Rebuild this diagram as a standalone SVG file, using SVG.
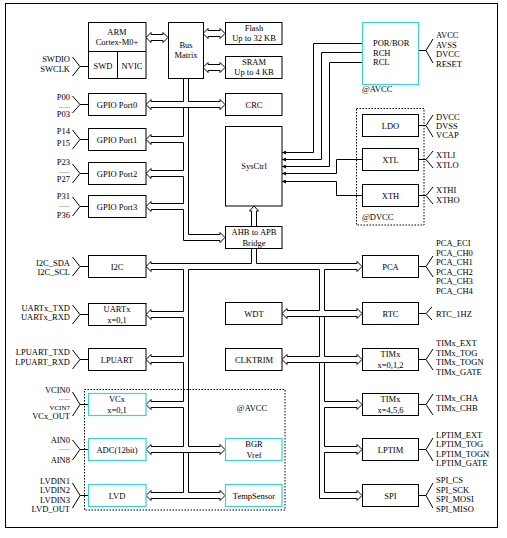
<svg xmlns="http://www.w3.org/2000/svg" width="507" height="538" viewBox="0 0 507 538">
<style>
.b{fill:#fff;stroke:#000;stroke-width:1}
.c{fill:#fff;stroke:#3fcfd6;stroke-width:1.2}
.d{fill:none;stroke:#000;stroke-width:1;stroke-dasharray:1.5 1.5}
.ln{fill:none;stroke:#000;stroke-width:1}
text{font-family:"Liberation Serif","Times New Roman",serif;font-size:8.5px;fill:#000}
.m{text-anchor:middle}
.e{text-anchor:end}
.dots{font-size:6.5px;fill:#555}
.sm{font-size:7px}
</style>
<defs>
<marker id="sa" markerUnits="userSpaceOnUse" markerWidth="4" markerHeight="4" refX="4" refY="2" orient="auto-start-reverse">
<path d="M0,0 L4,2 L0,4 Z" fill="#000"/>
</marker>
</defs>
<rect x="0" y="0" width="507" height="538" fill="#fff"/>
<rect id="frame" x="5.5" y="3.5" width="492" height="524" class="ln"/>
<rect id="avcc-region" x="84.5" y="389.5" width="200.5" height="120.5" class="d"/>
<rect id="dvcc-region" x="356.5" y="108.5" width="67.5" height="116.5" class="d"/>

<g id="connectors" class="ln">
<path d="M151,34.5 V32.5 L146,37.5 L151,42.5 V40.5 M151,34.5 H163 M151,40.5 H163 M163,34.5 V32.5 L168,37.5 L163,42.5 V40.5"/>
<path d="M208,30.5 V28.5 L203,33.5 L208,38.5 V36.5 M208,30.5 H220 M208,36.5 H220 M220,30.5 V28.5 L225,33.5 L220,38.5 V36.5"/>
<path d="M208,64.5 V62.5 L203,67.5 L208,72.5 V70.5 M208,64.5 H220 M208,70.5 H220 M220,64.5 V62.5 L225,67.5 L220,72.5 V70.5"/>
<path d="M183.5,78.5 V101.5 H151 V99.5 L146,104.5 L151,109.5 V107.5 H220 V109.5 L225,104.5 L220,99.5 V101.5 H188.5 V78.5"/>
<path d="M183.5,107.5 V136.5 H151 V134.5 L146,139.5 L151,144.5 V142.5 H183.5 V170.5 H151 V168.5 L146,173.5 L151,178.5 V176.5 H183.5 V203.5 H151 V201.5 L146,206.5 L151,211.5 V209.5 H183.5 V240.5 H220 V242.5 L225,237.5 L220,232.5 V234.5 H188.5 V107.5"/>
<path d="M251.5,226.5 V211 H249.5 L254,206 L258.5,211 H256.5 V226.5"/>
<path d="M251.5,248.5 V263.5 H151 V261.5 L146,266.5 L151,271.5 V269.5 H183.5 V311.5 H151 V309.5 L146,314.5 L151,319.5 V317.5 H183.5 V356.5 H151 V354.5 L146,359.5 L151,364.5 V362.5 H183.5 V401.5 H151 V399.5 L146,404.5 L151,409.5 V407.5 H183.5 V446.5 H151 V444.5 L146,449.5 L151,454.5 V452.5 H220 V454.5 L225,449.5 L220,444.5 V446.5 H188.5 V269.5 H319.5 V310.5 H287 V308.5 L282,313.5 L287,318.5 V316.5 H357 V318.5 L362,313.5 L357,308.5 V310.5 H324.5 V269.5 H357 V271.5 L362,266.5 L357,261.5 V263.5 H256.5 V248.5"/>
<path d="M183.5,452.5 V492.5 H151 V490.5 L146,495.5 L151,500.5 V498.5 H220 V500.5 L225,495.5 L220,490.5 V492.5 H188.5 V452.5"/>
<path d="M319.5,316.5 V356.5 H287 V354.5 L282,359.5 L287,364.5 V362.5 H357 V364.5 L362,359.5 L357,354.5 V356.5 H324.5 V316.5"/>
<path d="M319.5,362.5 V498.5 H357 V500.5 L362,495.5 L357,490.5 V492.5 H324.5 V452.5 H357 V454.5 L362,449.5 L357,444.5 V446.5 H324.5 V407.5 H357 V409.5 L362,404.5 L357,399.5 V401.5 H324.5 V362.5"/>
<path d="M282,152.5 H313.5 V43.5 H362" marker-start="url(#sa)"/>
<path d="M282,159.5 H321.5 V52.5 H362" marker-start="url(#sa)"/>
<path d="M282,166.5 H329.5 V62.5 H362" marker-start="url(#sa)"/>
<path d="M282,173.5 H336.5 V159.5 H362" marker-start="url(#sa)"/>
<path d="M282,181.5 H336.5 V195.5 H362" marker-start="url(#sa)"/>
<path d="M88.5,66.5 H80 M72.5,57 L80,66.5 L72.5,76"/>
<path d="M88.5,104.5 H80 M72.5,96 L80,104.5 L72.5,113"/>
<path d="M88.5,139.5 H80 M72.5,130 L80,139.5 L72.5,149"/>
<path d="M88.5,173.5 H80 M72.5,164 L80,173.5 L72.5,183"/>
<path d="M88.5,206.5 H80 M72.5,197 L80,206.5 L72.5,216"/>
<path d="M88.5,266.5 H80 M72.5,257 L80,266.5 L72.5,276"/>
<path d="M88.5,314.5 H80 M72.5,305 L80,314.5 L72.5,324"/>
<path d="M88.5,359.5 H80 M72.5,350 L80,359.5 L72.5,369"/>
<path d="M88.5,404.5 H80 M72.5,392 L80,404.5 L72.5,416"/>
<path d="M88.5,449.5 H80 M72.5,440 L80,449.5 L72.5,460"/>
<path d="M88.5,495.5 H80 M72.5,483 L80,495.5 L72.5,508"/>
<path d="M418.5,50.5 H426 M433,39 L426,50.5 L433,63"/>
<path d="M418.5,125.5 H426 M433,115 L426,125.5 L433,137"/>
<path d="M418.5,159.5 H426 M433,151 L426,159.5 L433,168"/>
<path d="M418.5,195.5 H426 M433,187 L426,195.5 L433,204"/>
<path d="M418.5,266.5 H426 M433,256 L426,266.5 L433,277"/>
<path d="M418.5,313.5 H426 M432,307 L426,313.5 L432,320"/>
<path d="M418.5,359.5 H426 M433,349 L426,359.5 L433,370"/>
<path d="M418.5,404.5 H426 M433,394 L426,404.5 L433,415"/>
<path d="M418.5,449.5 H426 M433,438 L426,449.5 L433,461"/>
<path d="M418.5,495.5 H426 M433,483 L426,495.5 L433,508"/>
</g>

<g id="arm">
<rect x="88.5" y="22.5" width="57.5" height="56" class="b"/>
<path d="M88.5,51.5 H146 M117.5,51.5 V78.5" class="ln"/>
<text x="117" y="35" class="m">ARM</text>
<text x="117" y="45" class="m">Cortex-M0+</text>
<text x="103" y="68.5" class="m">SWD</text>
<text x="132" y="68.5" class="m">NVIC</text>
<text x="70" y="62" class="e">SWDIO</text>
<text x="70" y="72" class="e">SWCLK</text>
</g>
<g id="busmatrix">
<rect x="168.5" y="22.5" width="35" height="56" class="b"/>
<text x="186" y="48" class="m">Bus</text>
<text x="186" y="58" class="m">Matrix</text>
</g>
<g id="flash">
<rect x="225.5" y="22.5" width="56.5" height="22" class="b"/>
<text x="254" y="30.5" class="m">Flash</text>
<text x="254" y="41" class="m">Up to 32 KB</text>
</g>
<g id="sram">
<rect x="225.5" y="56.5" width="56.5" height="22" class="b"/>
<text x="254" y="64.5" class="m">SRAM</text>
<text x="254" y="75" class="m">Up to 4 KB</text>
</g>
<g id="crc">
<rect x="225.5" y="93.5" width="56.5" height="22" class="b"/>
<text x="254" y="107.5" class="m">CRC</text>
</g>
<g id="sysctrl">
<rect x="225.5" y="126.5" width="56.5" height="79.5" class="b"/>
<text x="254" y="168.5" class="m">SysCtrl</text>
</g>
<g id="bridge">
<rect x="225.5" y="226.5" width="56.5" height="22" class="b"/>
<text x="254" y="235" class="m">AHB to APB</text>
<text x="254" y="245.5" class="m">Bridge</text>
</g>
<g id="wdt">
<rect x="225.5" y="302.5" width="56.5" height="22" class="b"/>
<text x="254" y="316.5" class="m">WDT</text>
</g>
<g id="clktrim">
<rect x="225.5" y="348.5" width="56.5" height="22" class="b"/>
<text x="254" y="362.5" class="m">CLKTRIM</text>
</g>
<g id="bgr">
<rect x="225.5" y="438.5" width="56.5" height="22" class="c"/>
<text x="254" y="447" class="m">BGR</text>
<text x="254" y="457.5" class="m">Vref</text>
</g>
<g id="tempsensor">
<rect x="225.5" y="484.5" width="56.5" height="22" class="c"/>
<text x="254" y="498.5" class="m">TempSensor</text>
</g>
<text x="252" y="411" class="m">@AVCC</text>

<g id="gpio0">
<rect x="88.5" y="93.5" width="57.5" height="22" class="b"/>
<text x="117" y="107.5" class="m">GPIO Port0</text>
<text x="70" y="99.5" class="e">P00</text>
<text x="70" y="107.5" class="e dots">.......</text>
<text x="70" y="116.5" class="e">P03</text>
</g>
<g id="gpio1">
<rect x="88.5" y="128.5" width="57.5" height="22" class="b"/>
<text x="117" y="142.5" class="m">GPIO Port1</text>
<text x="70" y="134" class="e">P14</text>
<text x="70" y="146" class="e">P15</text>
</g>
<g id="gpio2">
<rect x="88.5" y="162.5" width="57.5" height="22" class="b"/>
<text x="117" y="176.5" class="m">GPIO Port2</text>
<text x="70" y="165" class="e">P23</text>
<text x="70" y="173" class="e dots">.......</text>
<text x="70" y="182" class="e">P27</text>
</g>
<g id="gpio3">
<rect x="88.5" y="195.5" width="57.5" height="22" class="b"/>
<text x="117" y="209.5" class="m">GPIO Port3</text>
<text x="70" y="199" class="e">P31</text>
<text x="70" y="207" class="e dots">.......</text>
<text x="70" y="218" class="e">P36</text>
</g>
<g id="i2c">
<rect x="88.5" y="255.5" width="57.5" height="22" class="b"/>
<text x="117" y="269.5" class="m">I2C</text>
<text x="70" y="265.5" class="e">I2C_SDA</text>
<text x="70" y="275" class="e">I2C_SCL</text>
</g>
<g id="uart">
<rect x="88.5" y="303.5" width="57.5" height="22" class="b"/>
<text x="117" y="312" class="m">UARTx</text>
<text x="117" y="322.5" class="m">x=0,1</text>
<text x="70" y="311" class="e">UARTx_TXD</text>
<text x="70" y="320" class="e">UARTx_RXD</text>
</g>
<g id="lpuart">
<rect x="88.5" y="348.5" width="57.5" height="22" class="b"/>
<text x="117" y="362.5" class="m">LPUART</text>
<text x="70" y="355" class="e">LPUART_TXD</text>
<text x="70" y="365" class="e">LPUART_RXD</text>
</g>
<g id="vcx">
<rect x="88.5" y="393.5" width="57.5" height="22" class="c"/>
<text x="117" y="402" class="m">VCx</text>
<text x="117" y="412.5" class="m">x=0,1</text>
<text x="70" y="393" class="e">VCIN0</text>
<text x="70" y="400" class="e dots">.......</text>
<text x="70" y="410" class="e sm">VCIN7</text>
<text x="70" y="419" class="e">VCx_OUT</text>
</g>
<g id="adc">
<rect x="88.5" y="438.5" width="57.5" height="22" class="c"/>
<text x="117" y="452.5" class="m">ADC(12bit)</text>
<text x="70" y="443" class="e">AIN0</text>
<text x="70" y="450" class="e dots">.......</text>
<text x="70" y="462.5" class="e">AIN8</text>
</g>
<g id="lvd">
<rect x="88.5" y="484.5" width="57.5" height="22" class="c"/>
<text x="117" y="498.5" class="m">LVD</text>
<text x="70" y="484" class="e">LVDIN1</text>
<text x="70" y="493" class="e">LVDIN2</text>
<text x="70" y="502.5" class="e">LVDIN3</text>
<text x="70" y="511.5" class="e">LVD_OUT</text>
</g>

<g id="porbor">
<rect x="362.5" y="22.5" width="56" height="62" class="c"/>
<text x="373" y="46">POR/BOR</text>
<text x="373" y="55.5">RCH</text>
<text x="373" y="65">RCL</text>
<text x="362" y="92">@AVCC</text>
<text x="436" y="38">AVCC</text>
<text x="436" y="47.5">AVSS</text>
<text x="436" y="57">DVCC</text>
<text x="436" y="67">RESET</text>
</g>
<g id="ldo">
<rect x="362.5" y="114.5" width="56" height="22" class="b"/>
<text x="390.5" y="128.5" class="m">LDO</text>
<text x="436" y="120">DVCC</text>
<text x="436" y="129">DVSS</text>
<text x="436" y="138">VCAP</text>
</g>
<g id="xtl">
<rect x="362.5" y="148.5" width="56" height="22" class="b"/>
<text x="390.5" y="162.5" class="m">XTL</text>
<text x="436" y="157.5">XTLI</text>
<text x="436" y="167.5">XTLO</text>
</g>
<g id="xth">
<rect x="362.5" y="184.5" width="56" height="22" class="b"/>
<text x="390.5" y="198.5" class="m">XTH</text>
<text x="436" y="193">XTHI</text>
<text x="436" y="203">XTHO</text>
<text x="362" y="220">@DVCC</text>
</g>
<g id="pca">
<rect x="362.5" y="255.5" width="56" height="22" class="b"/>
<text x="390.5" y="269.5" class="m">PCA</text>
<text x="436" y="246">PCA_ECI</text>
<text x="436" y="255.5">PCA_CH0</text>
<text x="436" y="265">PCA_CH1</text>
<text x="436" y="274.5">PCA_CH2</text>
<text x="436" y="284">PCA_CH3</text>
<text x="436" y="293.5">PCA_CH4</text>
</g>
<g id="rtc">
<rect x="362.5" y="302.5" width="56" height="22" class="b"/>
<text x="390.5" y="316.5" class="m">RTC</text>
<text x="436" y="316.5">RTC_1HZ</text>
</g>
<g id="tim012">
<rect x="362.5" y="348.5" width="56" height="22" class="b"/>
<text x="390.5" y="357" class="m">TIMx</text>
<text x="390.5" y="367.5" class="m">x=0,1,2</text>
<text x="436" y="346">TIMx_EXT</text>
<text x="436" y="355.5">TIMx_TOG</text>
<text x="436" y="365">TIMx_TOGN</text>
<text x="436" y="374.5">TIMx_GATE</text>
</g>
<g id="tim456">
<rect x="362.5" y="393.5" width="56" height="22" class="b"/>
<text x="390.5" y="402" class="m">TIMx</text>
<text x="390.5" y="412.5" class="m">x=4,5,6</text>
<text x="436" y="401">TIMx_CHA</text>
<text x="436" y="411">TIMx_CHB</text>
</g>
<g id="lptim">
<rect x="362.5" y="438.5" width="56" height="22" class="b"/>
<text x="390.5" y="452.5" class="m">LPTIM</text>
<text x="436" y="437.5">LPTIM_EXT</text>
<text x="436" y="447">LPTIM_TOG</text>
<text x="436" y="456.5">LPTIM_TOGN</text>
<text x="436" y="466">LPTIM_GATE</text>
</g>
<g id="spi">
<rect x="362.5" y="484.5" width="56" height="22" class="b"/>
<text x="390.5" y="498.5" class="m">SPI</text>
<text x="436" y="483">SPI_CS</text>
<text x="436" y="492.5">SPI_SCK</text>
<text x="436" y="502">SPI_MOSI</text>
<text x="436" y="511.5">SPI_MISO</text>
</g>
</svg>
